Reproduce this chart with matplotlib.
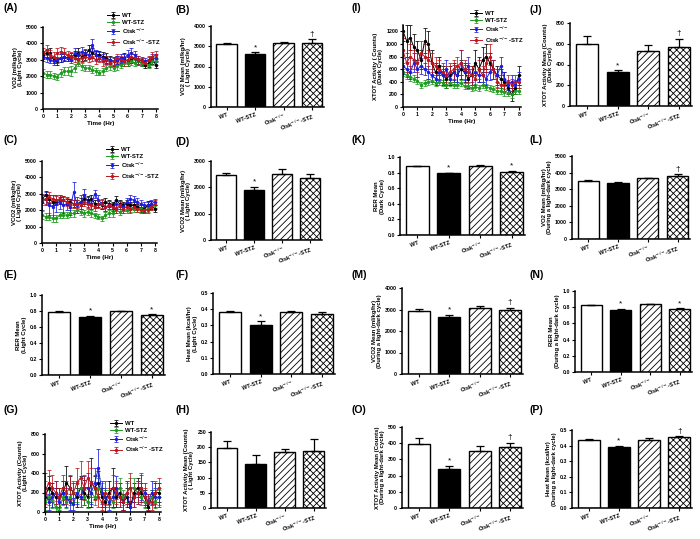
import matplotlib
matplotlib.use("Agg")
import matplotlib.pyplot as plt
import numpy as np

plt.rcParams["font.family"] = ["Liberation Sans", "DejaVu Sans"]
plt.rcParams["font.weight"] = "bold"
plt.rcParams["hatch.linewidth"] = 0.6
plt.rcParams["mathtext.default"] = "bf"

W, H = 700, 539

groups = ["WT", "WT-STZ", r"Ctsk$^{-/-}$", r"Ctsk$^{-/-}$-STZ"]
colors = ["black", "#1e9a1e", "#1c1ce0", "#c0141c"]

# sampling times, every 15 min over 8 hours
hours = np.arange(33) * 0.25

# (A) VO2, light cycle
vo2_wt = [3300, 3400, 3400, 3000, 2900, 3100, 3200, 3100, 3200, 3300, 3400, 3200, 3300, 3600, 3400, 3300, 3300,
          3200, 3100, 3000, 2900, 3000, 3000, 3100, 2900, 3000, 3100, 2900, 2800, 2700, 2800, 3000, 2700]
vo2_wt_err = [250, 250, 300, 200, 200, 250, 250, 200, 200, 250, 300, 300, 300, 300, 300, 250, 250,
              250, 300, 250, 250, 250, 200, 300, 250, 200, 250, 200, 200, 200, 250, 250, 200]
vo2_stz = [2200, 2100, 2100, 2000, 1950, 2200, 2300, 2300, 2300, 2500, 2800, 2600, 2500, 2500, 2400, 2300, 2200,
           2300, 2500, 2600, 2500, 2600, 2700, 2800, 2800, 2900, 2800, 2900, 2800, 2800, 2700, 2900, 2900]
vo2_stz_err = [250, 200, 200, 200, 200, 250, 250, 250, 300, 250, 200, 200, 200, 200, 200, 200, 150,
               200, 200, 200, 200, 200, 200, 200, 200, 200, 200, 200, 200, 200, 200, 200, 200]
vo2_ko = [3200, 3100, 3000, 2900, 3000, 3100, 3200, 3100, 3000, 3400, 3300, 3500, 3400, 3300, 3900, 3300, 3200,
          3100, 3000, 3000, 2900, 3000, 3100, 3100, 3300, 3400, 3300, 3000, 3000, 2900, 3000, 3100, 3100]
vo2_ko_err = [250, 250, 200, 200, 200, 250, 200, 200, 200, 300, 250, 300, 250, 250, 350, 300, 250,
              250, 250, 200, 200, 250, 250, 250, 300, 300, 250, 250, 200, 200, 200, 250, 250]
vo2_kostz = [3400, 3600, 3300, 3200, 3400, 3500, 3400, 3300, 3200, 3100, 3000, 3100, 3200, 3100, 3200, 3000, 3100,
             2900, 3000, 2800, 2900, 3100, 3000, 2900, 3000, 3200, 3100, 3000, 2900, 2800, 3000, 3200, 3300]
vo2_kostz_err = [300, 300, 300, 250, 300, 300, 300, 250, 250, 250, 250, 250, 250, 250, 250, 250, 250,
                 250, 250, 200, 250, 250, 250, 250, 250, 250, 250, 250, 200, 200, 250, 250, 250]

# (C) VCO2, light cycle
vco2_wt = [2700, 2900, 2700, 2500, 2500, 2600, 2600, 2500, 2500, 2400, 2400, 2500, 2700, 2600, 2700, 2400, 2400,
           2300, 2500, 2400, 2300, 2600, 2400, 2300, 2400, 2300, 2300, 2200, 2100, 2100, 2300, 2300, 2100]
vco2_wt_err = [250, 250, 250, 200, 200, 200, 250, 200, 200, 200, 200, 250, 300, 250, 250, 250, 200,
               200, 250, 200, 200, 250, 200, 200, 200, 200, 200, 200, 200, 200, 250, 250, 200]
vco2_stz = [1700, 1600, 1600, 1500, 1500, 1700, 1700, 1700, 1800, 1800, 2000, 1900, 1800, 1900, 1800, 1700, 1600,
            1500, 1700, 1800, 1800, 2000, 1900, 2000, 2000, 2100, 2100, 2100, 2100, 2000, 2100, 2200, 2300]
vco2_stz_err = [250, 200, 200, 200, 200, 200, 200, 200, 200, 200, 200, 200, 200, 200, 200, 150, 150,
                150, 200, 200, 200, 200, 200, 200, 200, 200, 200, 200, 200, 200, 200, 200, 200]
vco2_ko = [2500, 2700, 2300, 2200, 2400, 2500, 2300, 2400, 2200, 3100, 2300, 2500, 2900, 2500, 2400, 3000, 2600,
           2400, 2200, 2300, 2200, 2400, 2300, 2200, 2500, 2700, 2600, 2500, 2400, 2300, 2300, 2400, 2500]
vco2_ko_err = [500, 400, 600, 700, 500, 400, 500, 400, 500, 650, 500, 400, 400, 300, 300, 250, 300,
               300, 250, 250, 250, 250, 250, 250, 250, 250, 250, 250, 200, 200, 200, 200, 200]
vco2_kostz = [2600, 2700, 2800, 2700, 2600, 2700, 2600, 2500, 2400, 2400, 2400, 2300, 2500, 2400, 2300, 2200, 2400,
              2400, 2200, 2300, 2200, 2100, 2300, 2100, 2200, 2100, 2200, 2100, 2000, 2000, 2000, 2200, 2400]
vco2_kostz_err = [300, 300, 300, 250, 250, 250, 250, 250, 250, 250, 250, 250, 250, 250, 250, 250, 250,
                  250, 250, 250, 250, 250, 250, 250, 250, 250, 200, 200, 200, 200, 200, 200, 250]

# (G) XTOT activity, light cycle
xl_wt = [150, 250, 200, 150, 150, 200, 300, 250, 200, 150, 250, 200, 150, 300, 250, 300, 150,
         100, 200, 250, 150, 200, 100, 150, 50, 200, 250, 200, 150, 50, 150, 200, 200]
xl_wt_err = [100, 120, 100, 100, 100, 120, 170, 120, 100, 100, 120, 130, 100, 250, 120, 120, 100,
             100, 120, 200, 100, 100, 80, 100, 60, 100, 100, 100, 80, 40, 80, 100, 100]
xl_stz = [100, 150, 120, 50, 10, 150, 100, 150, 200, 200, 250, 150, 100, 200, 150, 250, 200,
          150, 150, 100, 200, 250, 150, 200, 250, 250, 200, 150, 100, 100, 150, 100, 150]
xl_stz_err = [80, 80, 80, 60, 30, 80, 60, 80, 100, 100, 100, 80, 60, 100, 80, 100, 100,
              80, 80, 60, 100, 100, 80, 100, 100, 100, 100, 80, 60, 60, 80, 60, 80]
xl_ko = [250, 100, 150, 200, 100, 200, 150, 100, 80, 200, 150, 250, 250, 200, 300, 450, 200,
         150, 100, 150, 250, 150, 100, 200, 50, 150, 200, 250, 200, 100, 200, 150, 150]
xl_ko_err = [150, 80, 100, 120, 80, 120, 100, 80, 60, 120, 100, 120, 150, 120, 150, 200, 120,
             100, 80, 100, 120, 100, 80, 120, 60, 100, 120, 130, 100, 80, 120, 100, 100]
xl_kostz = [200, 300, 250, 200, 150, 250, 200, 250, 200, 300, 350, 250, 350, 300, 250, 150, 100,
            200, 150, 250, 200, 150, 100, 200, 250, 150, 200, 250, 150, 100, 100, 200, 250]
xl_kostz_err = [120, 130, 130, 120, 100, 130, 120, 130, 120, 150, 170, 130, 170, 150, 130, 100, 80,
                120, 100, 130, 120, 100, 80, 120, 150, 100, 120, 150, 100, 80, 80, 120, 100]

# (I) XTOT activity, dark cycle
xd_wt = [1200, 1050, 1100, 950, 900, 750, 1050, 1000, 700, 550, 650, 500, 450, 500, 550, 500, 600,
         550, 450, 500, 700, 600, 750, 800, 700, 600, 500, 450, 400, 300, 200, 300, 500]
xd_wt_err = [150, 250, 200, 200, 150, 150, 200, 200, 200, 150, 150, 150, 150, 150, 150, 150, 150,
             150, 150, 150, 200, 200, 200, 200, 150, 150, 150, 150, 150, 100, 100, 100, 150]
xd_stz = [550, 500, 480, 450, 420, 350, 380, 400, 420, 380, 400, 380, 350, 380, 350, 350, 380,
          330, 330, 300, 320, 300, 350, 320, 300, 280, 260, 250, 230, 220, 200, 250, 250]
xd_stz_err = [60, 60, 60, 50, 50, 50, 50, 50, 50, 50, 50, 50, 50, 50, 50, 50, 50,
              50, 50, 50, 50, 50, 50, 50, 50, 50, 50, 50, 50, 50, 50, 50, 50]
xd_ko = [650, 600, 550, 700, 600, 650, 600, 550, 500, 450, 550, 500, 600, 450, 550, 500, 700,
         550, 650, 500, 550, 500, 500, 450, 550, 600, 500, 650, 450, 350, 400, 350, 450]
xd_ko_err = [120, 120, 100, 150, 120, 120, 100, 100, 100, 100, 120, 100, 150, 100, 120, 100, 200,
             120, 150, 100, 120, 100, 100, 100, 120, 150, 100, 150, 100, 80, 100, 80, 100]
xd_kostz = [900, 700, 800, 750, 700, 850, 800, 750, 700, 650, 600, 550, 500, 550, 600, 650, 700,
            600, 550, 500, 450, 600, 500, 700, 800, 600, 400, 350, 350, 400, 350, 400, 400]
xd_kostz_err = [200, 150, 200, 150, 150, 200, 200, 150, 150, 150, 150, 150, 150, 150, 150, 150, 200,
                150, 150, 150, 100, 150, 150, 150, 200, 150, 100, 100, 100, 100, 100, 100, 100]

# bar panel means, errors and significance marks
b_mean = [3100, 2600, 3150, 3150]; b_err = [80, 100, 60, 190]; b_mark = ["", "*", "", "†"]
d_mean = [2450, 1900, 2500, 2350]; d_err = [80, 120, 200, 150]; d_mark = ["", "*", "", ""]
e_mean = [0.79, 0.73, 0.80, 0.75]; e_err = [0.01, 0.01, 0.004, 0.01]; e_mark = ["", "*", "", "*"]
f_mean = [0.38, 0.30, 0.38, 0.37]; f_err = [0.01, 0.025, 0.01, 0.01]; f_mark = ["", "*", "", ""]
h_mean = [197, 145, 183, 188]; h_err = [22, 28, 10, 38]; h_mark = ["", "", "", ""]
j_mean = [595, 325, 530, 565]; j_err = [75, 20, 60, 85]; j_mark = ["", "*", "", "†"]
k_mean = [0.88, 0.79, 0.89, 0.81]; k_err = [0.01, 0.01, 0.01, 0.01]; k_mark = ["", "*", "", "*"]
l_mean = [3520, 3400, 3650, 3820]; l_err = [50, 60, 50, 90]; l_mark = ["", "", "", "†"]
m_mean = [2950, 2650, 3080, 2980]; m_err = [60, 100, 60, 100]; m_mark = ["", "*", "", "†"]
n_mean = [0.83, 0.77, 0.84, 0.78]; n_err = [0.003, 0.01, 0.003, 0.004]; n_mark = ["", "*", "", "*"]
o_mean = [395, 243, 353, 375]; o_err = [35, 18, 28, 28]; o_mark = ["", "*", "", "†"]
p_mean = [0.435, 0.388, 0.438, 0.452]; p_err = [0.008, 0.012, 0.008, 0.008]; p_mark = ["", "*", "", "†"]


def px(l, t, r, b):
    return [l / W, 1 - b / H, (r - l) / W, (b - t) / H]


def style_axes(ax, ymax, step, ylabel):
    for s in ["top", "right"]:
        ax.spines[s].set_visible(False)
    for s in ["left", "bottom"]:
        ax.spines[s].set_linewidth(1.1)
    ax.set_ylim(0, ymax)
    ax.set_yticks(np.arange(0, ymax + step / 2, step))
    ax.tick_params(labelsize=3.8, width=0.8, length=2.5, pad=1)
    ax.set_ylabel(ylabel, fontsize=4.3, fontweight="bold", labelpad=2, linespacing=1.1)


def time_panel(rect, series, ymax, step, yticks_max, ylabel, legend=True):
    ax = fig.add_axes(px(*rect))
    for (vals, errs), c, g in zip(series, colors, groups):
        ax.errorbar(hours, vals, yerr=errs, color=c, marker="o", ms=1.4, lw=0.7,
                    elinewidth=0.55, capsize=1.1, capthick=0.55, label=g)
    style_axes(ax, ymax, step, ylabel)
    ax.set_yticks(np.arange(0, yticks_max + step / 2, step))
    ax.set_xlim(0, 8.15)
    ax.set_xticks(range(9))
    ax.set_xlabel("Time (Hr)", fontsize=4.5, fontweight="bold", labelpad=1.5)
    if legend:
        ax.legend(loc="upper right", bbox_to_anchor=(1.06, 1.22), frameon=False, fontsize=4.3,
                  handlelength=2.0, handletextpad=0.6, labelspacing=0.25, borderpad=0.2)
    return ax


def bar_panel(rect, means, errs, marks, ymax, step, ylabel):
    ax = fig.add_axes(px(*rect))
    x = np.arange(4)
    fills = ["white", "black", "white", "white"]
    hatches = [None, None, "/////", "xxxxx"]
    for i in range(4):
        ax.bar(x[i], means[i], 0.72, color=fills[i], edgecolor="black", linewidth=1.0, hatch=hatches[i])
        ax.errorbar(x[i], means[i], yerr=[[0], [errs[i]]], color="black", capsize=3.0,
                    elinewidth=0.9, capthick=0.9)
        if marks[i]:
            ax.text(x[i], means[i] + errs[i] + ymax * 0.015, marks[i], ha="center", va="bottom",
                    fontsize=6, fontweight="normal")
    style_axes(ax, ymax, step, ylabel)
    ax.set_xlim(-0.55, 3.42)
    ax.set_xticks(x)
    ax.set_xticklabels(groups, rotation=20, ha="right", rotation_mode="anchor", fontsize=4.0)
    ax.tick_params(axis="x", length=2, pad=1.5)
    return ax


fig = plt.figure(figsize=(W / 100, H / 100), dpi=100)

time_panel((43, 27, 158, 109), [(vo2_wt, vo2_wt_err), (vo2_stz, vo2_stz_err), (vo2_ko, vo2_ko_err),
                                (vo2_kostz, vo2_kostz_err)],
           5000, 1000, 5000, "VO2 (ml/kg/hr)\n(Light Cycle)")
bar_panel((211, 26, 324, 107), b_mean, b_err, b_mark, 4000, 1000, "VO2 Mean (ml/kg/hr)\n( Light Cycle)")
time_panel((403, 25, 521, 107), [(xd_wt, xd_wt_err), (xd_stz, xd_stz_err), (xd_ko, xd_ko_err),
                                 (xd_kostz, xd_kostz_err)],
           1300, 200, 1200, "XTOT Activity ( Counts)\n(Dark Cycle)")
bar_panel((570, 23, 692, 106), j_mean, j_err, j_mark, 800, 200, "XTOT Activity Mean (Counts)\n(Dark Cycle)")

time_panel((42, 161, 157, 243), [(vco2_wt, vco2_wt_err), (vco2_stz, vco2_stz_err), (vco2_ko, vco2_ko_err),
                                 (vco2_kostz, vco2_kostz_err)],
           5000, 1000, 5000, "VCO2 (ml/kg/hr)\n( Light Cycle)")
bar_panel((211, 161, 322, 240), d_mean, d_err, d_mark, 3000, 1000, "VCO2 Mean (ml/kg/hr)\n( Light Cycle)")
bar_panel((400, 157, 525, 235), k_mean, k_err, k_mark, 1.0, 0.2, "RER Mean\n(Dark Cycle)")
bar_panel((572, 156, 690, 239), l_mean, l_err, l_mark, 5000, 1000,
          "VO2 Mean (ml/kg/hr)\n(During a light-dark cycle)")

bar_panel((42, 295, 165, 375), e_mean, e_err, e_mark, 1.0, 0.2, "RER Mean\n(Light Cycle)")
bar_panel((213, 293, 335, 374), f_mean, f_err, f_mark, 0.5, 0.1, "Heat Mean (kcal/hr)\n(Light Cycle)")
bar_panel((402, 288, 523, 374), m_mean, m_err, m_mark, 4000, 1000,
          "VCO2 Mean (ml/kg/hr)\n(During a light-dark cycle)")
bar_panel((575, 291, 692, 372), n_mean, n_err, n_mark, 1.0, 0.2, "RER Mean\n(During a light-dark cycle)")

time_panel((45, 434, 161, 512), [(xl_wt, xl_wt_err), (xl_stz, xl_stz_err), (xl_ko, xl_ko_err),
                                 (xl_kostz, xl_kostz_err)],
           800, 200, 800, "XTOT Activity (Counts)\n(Light Cycle)")
bar_panel((211, 432, 326, 508), h_mean, h_err, h_mark, 250, 50,
          "XTOT Activity Mean (Counts)\n( Light Cycle)")
bar_panel((402, 427, 523, 508), o_mean, o_err, o_mark, 500, 100,
          "XTOT Activity Mean (Counts)\n(During a light-dark cycle)")
bar_panel((572, 430, 692, 508), p_mean, p_err, p_mark, 0.5, 0.1,
          "Heat Mean (kcal/hr)\n(During a light-dark cycle)")

letters = [("(A)", 3, 3), ("(B)", 176, 5), ("(I)", 352, 3), ("(J)", 530, 5),
           ("(C)", 3, 135), ("(D)", 176, 137), ("(K)", 352, 135), ("(L)", 530, 135),
           ("(E)", 3, 270), ("(F)", 176, 270), ("(M)", 352, 270), ("(N)", 530, 270),
           ("(G)", 3, 405), ("(H)", 176, 405), ("(O)", 352, 405), ("(P)", 530, 405)]
for txt, x, y in letters:
    fig.text(x / W, 1 - y / H, txt, fontsize=7.5, fontweight="bold", va="top", ha="left")

fig.savefig("out.png", dpi=100)
